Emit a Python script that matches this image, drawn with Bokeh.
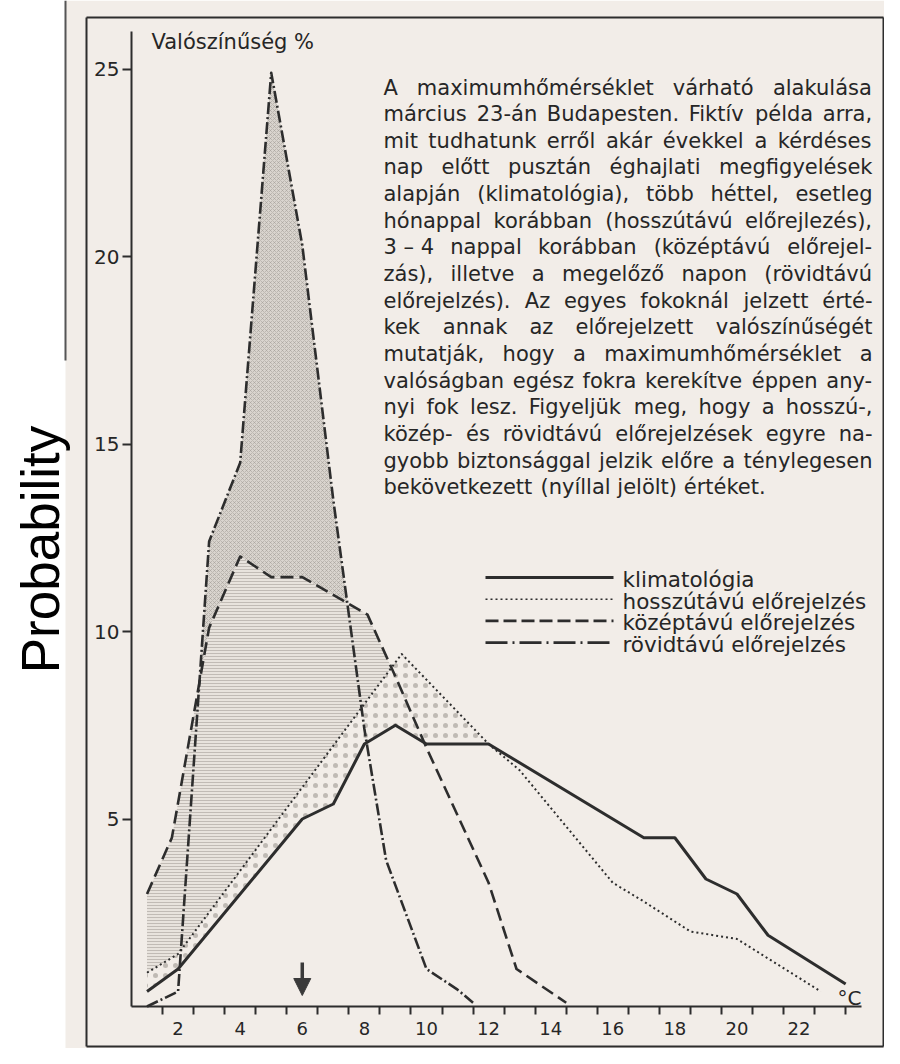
import unicodedata
import numpy as np
from bokeh.plotting import figure
from bokeh.models import (ColumnDataSource, Range1d, LinearAxis, FixedTicker,
                          BoxAnnotation, Label, Arrow, NormalHead)
from bokeh.core.properties import value
from bokeh.embed import file_html
from bokeh.resources import INLINE

# ---------------- data: daily maximum temperature (°C) vs probability (%) --------
klim_x = [1, 2, 6, 7, 8, 9, 10, 12, 17, 18, 19, 20, 21, 23.5]
klim_y = [0.4, 1.0, 5.0, 5.4, 7.0, 7.5, 7.0, 7.0, 4.5, 4.5, 3.4, 3.0, 1.9, 0.6]

hosszu_x = [1, 2, 9.2, 12, 13, 16, 17, 18.5, 20, 22.7]
hosszu_y = [0.9, 1.4, 9.4, 7.0, 6.3, 3.3, 2.8, 2.0, 1.8, 0.4]

kozep_x = [1, 1.8, 3, 4, 5, 6, 8.1, 9, 10, 11, 12, 12.9, 14.5]
kozep_y = [3.0, 4.5, 10.1, 12.0, 11.45, 11.45, 10.45, 8.8, 6.9, 5.1, 3.3, 1.0, 0.1]

rovid_x = [1, 2, 3, 4, 5, 6, 7, 8, 8.7, 10, 11, 11.5]
rovid_y = [0.0, 0.4, 12.4, 14.5, 24.9, 20.3, 13.5, 7.4, 3.9, 1.0, 0.45, 0.1]

actual_value = 6                      # the realised maximum (arrow)
x_tick_labels = [2, 4, 6, 8, 10, 12, 14, 16, 18, 20, 22]
x_bin_edges = [1.5 + i for i in range(23)]
y_ticks = [5, 10, 15, 20, 25]

series_names = ["klimatológia", "hosszútávú előrejelzés",
                "középtávú előrejelzés", "rövidtávú előrejelzés"]
y_title = "Valószínűség %"
x_unit = "°C"
side_label = "Probability"
note_lines = [
    "A maximumhőmérséklet várható alakulása",
    "március 23-án Budapesten. Fiktív példa arra,",
    "mit tudhatunk erről akár évekkel a kérdéses",
    "nap előtt pusztán éghajlati megfigyelések",
    "alapján (klimatológia), több héttel, esetleg",
    "hónappal korábban (hosszútávú előrejlezés),",
    "3\u00a0–\u00a04 nappal korábban (középtávú előrejel-",
    "zás), illetve a megelőző napon (rövidtávú",
    "előrejelzés). Az egyes fokoknál jelzett érté-",
    "kek annak az előrejelzett valószínűségét",
    "mutatják, hogy a maximumhőmérséklet a",
    "valóságban egész fokra kerekítve éppen any-",
    "nyi fok lesz. Figyeljük meg, hogy a hosszú-,",
    "közép- és rövidtávú előrejelzések egyre na-",
    "gyobb biztonsággal jelzik előre a ténylegesen",
    "bekövetkezett (nyíllal jelölt) értéket.",
]

# ---------------- layout / style ------------------------------------------------
W, H, OFF = 884, 1048, 0
AX0, SX = 131.0, 31.05      # page px of x=0.5, px per degree
Y0, SY = 1006.0, 37.5       # page px of y=0, px per percent
INK = "#2d2d2d"
TXT = "#262626"
BEIGE = "#f2ede8"
FONT = "DejaVu Sans"
BL = 6                      # baseline correction for 21px text (px)


def dx(px):
    return 0.5 + (px - AX0) / SX


def dy(py):
    return (Y0 - py) / SY


p = figure(width=W, height=H,
           x_range=Range1d(dx(OFF), dx(OFF + W)),
           y_range=Range1d(dy(OFF + H), dy(OFF)),
           x_axis_type=None, y_axis_type=None,
           output_backend="svg", toolbar_location=None, min_border=0,
           background_fill_color="white", border_fill_color="white",
           outline_line_color=None)

# scanned page background
p.add_layout(BoxAnnotation(left=dx(65), fill_color=BEIGE, fill_alpha=1.0,
                           line_color=None, level="underlay"))

# page frame
fl, fr, ft, fb = 86, 883, 17, 1046
p.line([dx(fl), dx(fr)], [dy(ft), dy(ft)], line_color=INK, line_width=2)
p.line([dx(fl), dx(fl)], [dy(ft), dy(fb)], line_color=INK, line_width=2)
p.line([dx(fr), dx(fr)], [dy(ft), dy(fb)], line_color=INK, line_width=2)
p.line([dx(fl), dx(fr)], [dy(fb), dy(fb)], line_color=INK, line_width=2)
p.line([dx(65), dx(65)], [dy(0), dy(360)], line_color="#555555", line_width=2)

# ---------------- shaded excess areas --------------------------------------------
def excess(ux, uy, lx, ly, x_end):
    xs = np.linspace(1, x_end, int(round((x_end - 1) * 100)) + 1)
    up = np.interp(xs, ux, uy)
    lo = np.interp(xs, lx, ly)
    return xs, lo, np.maximum(up, lo)

xa, a1, a2 = excess(hosszu_x, hosszu_y, klim_x, klim_y, hosszu_x[-1])
p.varea(x=xa, y1=a1, y2=a2, fill_color=BEIGE, fill_alpha=1.0,
        hatch_pattern=".", hatch_scale=10, hatch_weight=2.5,
        hatch_color="#a9a49e", hatch_alpha=0.7)

xb, b1, b2 = excess(kozep_x, kozep_y, hosszu_x, hosszu_y, kozep_x[-1])
p.varea(x=xb, y1=b1, y2=b2, fill_color="#e8e3dd", fill_alpha=1.0,
        hatch_pattern="-", hatch_scale=3, hatch_weight=1,
        hatch_color="#b0aaa4", hatch_alpha=0.7)

xc, c1, c2 = excess(rovid_x, rovid_y, kozep_x, kozep_y, rovid_x[-1])
p.varea(x=xc, y1=c1, y2=c2, fill_color="#d9d4ce", fill_alpha=1.0,
        hatch_pattern="x", hatch_scale=4, hatch_weight=1,
        hatch_color="#9a958f", hatch_alpha=0.45)

# ---------------- the four curves ------------------------------------------------
styles = [dict(line_width=3.0),
          dict(line_width=2.0, line_dash="2 3"),
          dict(line_width=2.6, line_dash="13 6"),
          dict(line_width=2.6, line_dash="12 3 2 3")]
for (sx, sy), st in zip([(klim_x, klim_y), (hosszu_x, hosszu_y),
                         (kozep_x, kozep_y), (rovid_x, rovid_y)], styles):
    p.line(sx, sy, line_color=INK, line_join="round", **st)

# ---------------- axes -------------------------------------------------------------
xax = LinearAxis(fixed_location=0, bounds=(0.5, 24),
                 ticker=FixedTicker(ticks=x_tick_labels, minor_ticks=x_bin_edges))
xax.axis_line_color = INK
xax.axis_line_width = 2
xax.major_tick_line_color = None
xax.major_tick_out = 8
xax.major_tick_in = 0
xax.minor_tick_line_color = INK
xax.minor_tick_line_width = 2
xax.minor_tick_out = 8
xax.minor_tick_in = 0
xax.major_label_text_font = FONT
xax.major_label_text_font_size = "18px"
xax.major_label_text_color = TXT
xax.major_label_standoff = 7
p.add_layout(xax, "below")

yax = LinearAxis(fixed_location=0.5, bounds=(0, 26.0),
                 ticker=FixedTicker(ticks=y_ticks))
yax.axis_line_color = INK
yax.axis_line_width = 2
yax.major_tick_line_color = INK
yax.major_tick_line_width = 2
yax.major_tick_out = 9
yax.major_tick_in = 0
yax.minor_tick_line_color = None
yax.major_label_text_font = FONT
yax.major_label_text_font_size = "20px"
yax.major_label_text_color = TXT
yax.major_label_standoff = 3
p.add_layout(yax, "left")

# axis titles
p.add_layout(Label(x=dx(151), y=dy(48 - BL - 1), text=y_title, text_font=FONT,
                   text_font_size="21px", text_color=TXT, text_baseline="alphabetic"))
p.add_layout(Label(x=dx(837), y=dy(1003 - BL), text=x_unit, text_font=FONT,
                   text_font_size="20px", text_color=TXT, text_baseline="alphabetic"))
p.add_layout(Label(x=dx(40), y=dy(549), text=side_label, angle=np.pi / 2,
                   text_align="center", text_baseline="alphabetic",
                   text_font="Liberation Sans", text_font_size="53px",
                   text_color="black"))

# arrow marking the realised value
p.add_layout(Arrow(end=NormalHead(size=17, fill_color="#3a3a3a", line_color="#3a3a3a"),
                   x_start=actual_value, y_start=dy(962), x_end=actual_value, y_end=dy(995),
                   line_color="#3a3a3a", line_width=3.5))

# ---------------- legend (drawn by hand) ----------------------------------------
leg_x0, leg_x1, leg_text_x = 485, 613, 622
leg_rows = [577 + 21.7 * i for i in range(4)]
leg_styles = [dict(line_width=3.0),
              dict(line_width=1.6, line_dash="2 3"),
              dict(line_width=2.6, line_dash="13 5"),
              dict(line_width=2.6, line_dash="22 5 2 5")]
for row, st in zip(leg_rows, leg_styles):
    p.line([dx(leg_x0), dx(leg_x1)], [dy(row), dy(row)], line_color=INK, **st)
p.text(x=[dx(leg_text_x)] * 4, y=[dy(r + 8 - BL) for r in leg_rows], text=series_names,
       text_font=value(FONT), text_font_size="21.5px", text_color=TXT,
       text_baseline="alphabetic", text_align="left")

# ---------------- justified note text ---------------------------------------------
DV = {" ": .318, "\u00a0": .318, "a": .613, "b": .635, "c": .550, "d": .635, "e": .615,
      "f": .352, "g": .635, "h": .634, "i": .278, "j": .278, "k": .579, "l": .278,
      "m": .974, "n": .634, "o": .612, "p": .635, "q": .635, "r": .411, "s": .521,
      "t": .392, "u": .634, "v": .592, "w": .818, "x": .592, "y": .592, "z": .525,
      "A": .684, "B": .686, "F": .575, "K": .656, ".": .318, ",": .318, "-": .361,
      "(": .390, ")": .390, "–": .500, "%": .950}
for d in "0123456789":
    DV[d] = .636


def text_w(s, size):
    return sum(DV.get(unicodedata.normalize("NFD", ch)[0], 0.6) for ch in s) * size


NOTE_SIZE = 21
note_left, note_right = 383, 872
base0, pitch = 93.0 - BL, 26.65
wx, wy, wt = [], [], []
for i, line in enumerate(note_lines):
    words = line.split(" ")
    widths = [text_w(w, NOTE_SIZE) for w in words]
    if i == len(note_lines) - 1 or len(words) == 1:
        gap = DV[" "] * NOTE_SIZE
    else:
        gap = (note_right - note_left - sum(widths)) / (len(words) - 1)
    xpos = note_left
    for w, ww in zip(words, widths):
        wx.append(dx(xpos))
        wy.append(dy(base0 + i * pitch))
        wt.append(w)
        xpos += ww + gap
p.text(x="x", y="y", text="t", source=ColumnDataSource(dict(x=wx, y=wy, t=wt)),
       text_font=value(FONT), text_font_size=f"{NOTE_SIZE}px", text_color=TXT,
       text_baseline="alphabetic", text_align="left")

open("out.html", "w").write(file_html(p, INLINE))
